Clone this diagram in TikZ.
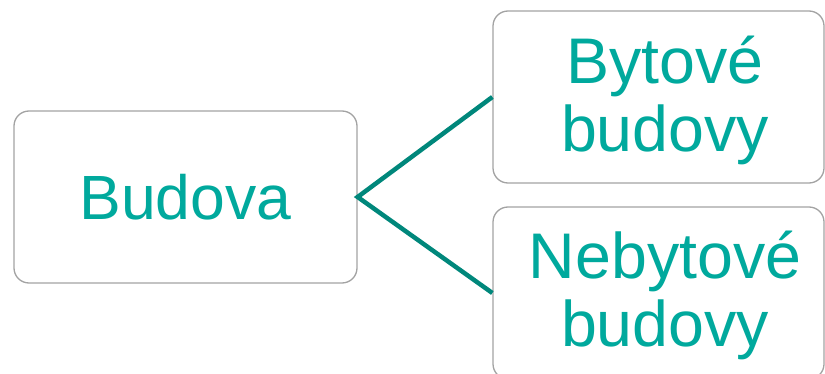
\documentclass[tikz,border=0pt]{standalone}
\usepackage{fontspec}
\setmainfont{Liberation Sans}
\definecolor{txt}{HTML}{00A99D}
\definecolor{conn}{HTML}{00877B}
\definecolor{frame}{HTML}{A3A3A3}
\begin{document}
\begin{tikzpicture}[x=1pt,y=1pt,
  box/.style={draw=frame, line width=1.3pt, rounded corners=15pt, fill=white,
    text=txt, align=center, inner sep=0pt,
    font=\fontsize{62.5}{68}\selectfont},
  rbox/.style={box, minimum width=331pt, minimum height=172pt,
    font=\fontsize{64.5}{68}\selectfont},
  lbl/.style={text=txt, align=center, inner sep=0pt,
    font=\fontsize{64.5}{68}\selectfont},
  conn/.style={draw=conn, line width=4.5pt}]
\useasboundingbox (0,0) rectangle (825,373);
\begin{scope}
\clip (0,0) rectangle (825,373);
\node[box, minimum width=343pt, minimum height=172pt] (root) at (185.5,176) {Budova};
\node[rbox] (a) at (658.5,276) {};
\node[rbox] (b) at (658.5,80) {};
\node[lbl] (at) at (665,273) {Bytové\\budovy};
\node[lbl] (bt) at (665,78) {Nebytové\\budovy};
\draw[conn] (a.west) -- (root.east) -- (b.west);
\end{scope}
\end{tikzpicture}
\end{document}
